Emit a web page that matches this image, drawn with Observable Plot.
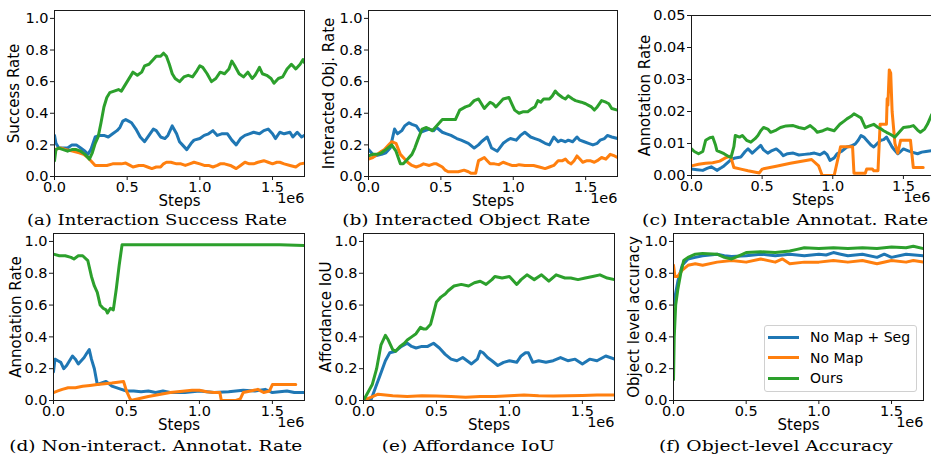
<!DOCTYPE html>
<html><head><meta charset="utf-8">
<script src="https://cdn.jsdelivr.net/npm/d3@7"></script>
<script src="https://cdn.jsdelivr.net/npm/@observablehq/plot@0.6"></script>
<style>
html,body{margin:0;padding:0;background:#fff;}
body{width:931px;height:455px;overflow:hidden;position:relative;font-family:"DejaVu Sans",sans-serif;}
.panel{position:absolute;}
.panel svg{max-width:none !important;}
.cap{position:absolute;font-family:"DejaVu Serif",serif;font-size:15px;line-height:18px;white-space:nowrap;color:#000;}
.cap span{display:inline-block;transform-origin:50% 50%;}
.legend{position:absolute;border:1px solid #d0d0d0;border-radius:3px;background:rgba(255,255,255,0.85);box-sizing:border-box;}
.legend .row{position:absolute;left:0;height:20px;display:flex;align-items:center;font-size:14px;color:#000;}
.legend .sw{width:31px;height:3px;margin-left:3px;margin-right:11px;}
</style></head><body>
<script>
// ---------- labels ----------
const seriesNames = ["No Map + Seg", "No Map", "Ours"];
const seriesColors = ["#1f77b4", "#ff7f0e", "#2ca02c"];
const captions = ["(a) Interaction Success Rate", "(b) Interacted Object Rate", "(c) Interactable Annotat. Rate",
                  "(d) Non-interact. Annotat. Rate", "(e) Affordance IoU", "(f) Object-level Accuracy"];
const yLabels = ["Success Rate", "Interacted Obj. Rate", "Annotation Rate", "Annotation Rate", "Affordance IoU", "Object level accuracy"];
const xLabel = "Steps";
const xExponent = "1e6";
const xTicks = [0, 0.5, 1.0, 1.5];
const yTicksUnit = [0, 0.2, 0.4, 0.6, 0.8, 1.0];
const yTicksSmall = [0, 0.01, 0.02, 0.03, 0.04, 0.05];

// ---------- data (steps in millions, value) ----------
// (a) Interaction Success Rate
const aSeg = [[0,0.26],[0.01,0.21],[0.03,0.18],[0.06,0.18],[0.09,0.18],[0.12,0.2],[0.15,0.2],[0.18,0.18],[0.21,0.16],[0.23,0.14],[0.25,0.17],[0.28,0.25],[0.31,0.26],[0.34,0.26],[0.37,0.25],[0.4,0.27],[0.43,0.29],[0.45,0.31],[0.47,0.35],[0.49,0.36],[0.51,0.35],[0.53,0.34],[0.56,0.3],[0.59,0.25],[0.62,0.22],[0.65,0.26],[0.68,0.3],[0.7,0.29],[0.73,0.25],[0.76,0.24],[0.78,0.26],[0.81,0.32],[0.84,0.27],[0.86,0.22],[0.88,0.2],[0.91,0.17],[0.94,0.21],[0.96,0.23],[1.0,0.24],[1.03,0.26],[1.06,0.27],[1.09,0.29],[1.12,0.26],[1.15,0.27],[1.19,0.27],[1.22,0.23],[1.25,0.2],[1.28,0.24],[1.31,0.26],[1.34,0.27],[1.37,0.28],[1.41,0.27],[1.44,0.29],[1.47,0.3],[1.5,0.27],[1.52,0.24],[1.55,0.28],[1.58,0.27],[1.62,0.28],[1.64,0.25],[1.67,0.28],[1.7,0.25],[1.72,0.26]];
const aNoMap = [[0,0.17],[0.04,0.18],[0.08,0.17],[0.13,0.16],[0.17,0.15],[0.2,0.14],[0.23,0.12],[0.25,0.1],[0.28,0.07],[0.32,0.07],[0.36,0.07],[0.4,0.08],[0.43,0.08],[0.46,0.08],[0.49,0.085],[0.52,0.07],[0.54,0.06],[0.58,0.07],[0.61,0.07],[0.64,0.06],[0.67,0.05],[0.7,0.06],[0.73,0.06],[0.75,0.08],[0.77,0.09],[0.8,0.09],[0.84,0.08],[0.87,0.08],[0.9,0.07],[0.93,0.08],[0.96,0.09],[1.0,0.08],[1.03,0.07],[1.06,0.07],[1.09,0.06],[1.12,0.07],[1.14,0.08],[1.17,0.08],[1.21,0.07],[1.25,0.05],[1.28,0.07],[1.31,0.09],[1.34,0.08],[1.37,0.08],[1.4,0.09],[1.44,0.1],[1.47,0.09],[1.5,0.08],[1.53,0.09],[1.55,0.09],[1.58,0.08],[1.62,0.07],[1.66,0.06],[1.69,0.08],[1.72,0.085]];
const aOurs = [[0,0.1],[0.01,0.17],[0.03,0.18],[0.06,0.17],[0.09,0.16],[0.12,0.17],[0.15,0.17],[0.18,0.16],[0.21,0.14],[0.24,0.11],[0.26,0.15],[0.28,0.21],[0.3,0.25],[0.32,0.34],[0.34,0.44],[0.36,0.5],[0.38,0.53],[0.41,0.54],[0.44,0.55],[0.46,0.54],[0.48,0.57],[0.5,0.6],[0.52,0.63],[0.54,0.66],[0.57,0.64],[0.6,0.66],[0.62,0.7],[0.65,0.71],[0.68,0.74],[0.7,0.76],[0.73,0.76],[0.75,0.78],[0.77,0.76],[0.79,0.71],[0.81,0.65],[0.83,0.62],[0.86,0.6],[0.89,0.63],[0.92,0.64],[0.95,0.63],[0.98,0.67],[1.0,0.7],[1.02,0.69],[1.05,0.65],[1.08,0.6],[1.11,0.62],[1.14,0.66],[1.17,0.65],[1.2,0.68],[1.22,0.73],[1.24,0.7],[1.27,0.65],[1.3,0.63],[1.33,0.66],[1.36,0.62],[1.38,0.64],[1.41,0.69],[1.43,0.65],[1.46,0.64],[1.49,0.62],[1.51,0.59],[1.54,0.62],[1.57,0.63],[1.6,0.68],[1.63,0.71],[1.66,0.68],[1.69,0.71],[1.71,0.74],[1.72,0.72]];

// (b) Interacted Object Rate
const bSeg = [[0,0.17],[0.04,0.13],[0.09,0.14],[0.12,0.15],[0.15,0.18],[0.18,0.3],[0.2,0.27],[0.23,0.29],[0.25,0.32],[0.28,0.34],[0.3,0.33],[0.33,0.32],[0.36,0.28],[0.39,0.29],[0.42,0.3],[0.45,0.29],[0.47,0.31],[0.51,0.28],[0.54,0.27],[0.57,0.26],[0.61,0.24],[0.64,0.23],[0.69,0.21],[0.73,0.18],[0.76,0.2],[0.78,0.22],[0.82,0.25],[0.85,0.18],[0.89,0.16],[0.93,0.21],[0.96,0.23],[0.98,0.24],[1.02,0.23],[1.05,0.26],[1.08,0.28],[1.12,0.25],[1.15,0.24],[1.18,0.23],[1.22,0.21],[1.25,0.2],[1.28,0.25],[1.31,0.22],[1.33,0.23],[1.36,0.22],[1.38,0.23],[1.41,0.22],[1.44,0.25],[1.46,0.23],[1.49,0.22],[1.52,0.21],[1.55,0.2],[1.58,0.21],[1.6,0.23],[1.63,0.24],[1.65,0.26],[1.68,0.25],[1.72,0.24]];
const bNoMap = [[0,0.11],[0.03,0.12],[0.06,0.14],[0.09,0.16],[0.11,0.17],[0.14,0.2],[0.16,0.22],[0.19,0.21],[0.22,0.14],[0.25,0.11],[0.27,0.09],[0.3,0.07],[0.33,0.06],[0.36,0.07],[0.38,0.08],[0.42,0.07],[0.45,0.08],[0.47,0.08],[0.51,0.06],[0.53,0.04],[0.55,0.03],[0.59,0.03],[0.62,0.03],[0.66,0.04],[0.69,0.03],[0.71,0.02],[0.74,0.02],[0.76,0.1],[0.78,0.11],[0.8,0.12],[0.82,0.1],[0.84,0.08],[0.87,0.08],[0.9,0.075],[0.93,0.09],[0.96,0.08],[0.99,0.07],[1.02,0.07],[1.04,0.075],[1.08,0.07],[1.11,0.07],[1.14,0.07],[1.18,0.06],[1.22,0.05],[1.25,0.06],[1.28,0.07],[1.31,0.1],[1.34,0.1],[1.36,0.11],[1.38,0.09],[1.4,0.08],[1.42,0.1],[1.44,0.13],[1.46,0.11],[1.48,0.09],[1.51,0.1],[1.53,0.1],[1.56,0.09],[1.58,0.1],[1.61,0.12],[1.64,0.11],[1.67,0.14],[1.7,0.13],[1.72,0.12]];
const bOurs = [[0,0.13],[0.03,0.14],[0.06,0.14],[0.09,0.15],[0.12,0.17],[0.16,0.2],[0.19,0.16],[0.22,0.08],[0.24,0.08],[0.26,0.1],[0.3,0.14],[0.32,0.18],[0.34,0.23],[0.37,0.3],[0.4,0.31],[0.42,0.3],[0.44,0.29],[0.47,0.32],[0.49,0.34],[0.51,0.36],[0.55,0.36],[0.58,0.36],[0.6,0.36],[0.63,0.42],[0.67,0.44],[0.7,0.45],[0.73,0.48],[0.76,0.49],[0.78,0.46],[0.8,0.43],[0.82,0.45],[0.84,0.47],[0.86,0.46],[0.88,0.44],[0.91,0.47],[0.93,0.49],[0.97,0.5],[0.99,0.46],[1.01,0.42],[1.04,0.4],[1.07,0.41],[1.1,0.41],[1.13,0.43],[1.15,0.44],[1.17,0.48],[1.19,0.47],[1.21,0.49],[1.25,0.49],[1.27,0.51],[1.29,0.54],[1.31,0.52],[1.34,0.5],[1.36,0.49],[1.38,0.51],[1.41,0.49],[1.43,0.48],[1.47,0.47],[1.5,0.46],[1.52,0.45],[1.54,0.44],[1.56,0.42],[1.58,0.44],[1.61,0.48],[1.64,0.47],[1.66,0.46],[1.68,0.43],[1.72,0.42]];

// (c) Interactable Annotation Rate
const cSeg = [[0,0.002],[0.04,0.0018],[0.08,0.0016],[0.11,0.0022],[0.14,0.0027],[0.16,0.0022],[0.18,0.0016],[0.21,0.0024],[0.23,0.003],[0.26,0.0042],[0.28,0.005],[0.31,0.0055],[0.35,0.0058],[0.38,0.0075],[0.4,0.0083],[0.43,0.007],[0.46,0.0082],[0.49,0.0094],[0.51,0.008],[0.54,0.007],[0.57,0.0078],[0.6,0.0083],[0.63,0.0072],[0.65,0.0062],[0.68,0.0068],[0.72,0.007],[0.76,0.0064],[0.8,0.0066],[0.84,0.0068],[0.87,0.007],[0.91,0.0065],[0.94,0.0073],[0.96,0.0065],[0.98,0.0047],[1.01,0.0055],[1.03,0.0068],[1.06,0.0075],[1.1,0.0089],[1.13,0.0092],[1.16,0.0099],[1.18,0.011],[1.2,0.0125],[1.22,0.012],[1.24,0.011],[1.27,0.0095],[1.29,0.0089],[1.32,0.0102],[1.34,0.011],[1.36,0.0112],[1.38,0.012],[1.4,0.0105],[1.42,0.0089],[1.44,0.0078],[1.46,0.0068],[1.48,0.0075],[1.5,0.0083],[1.53,0.0078],[1.56,0.0073],[1.6,0.0068],[1.63,0.0073],[1.66,0.0075],[1.7,0.0078],[1.72,0.0075]];
const cNoMap = [[0,0.003],[0.05,0.0035],[0.1,0.0038],[0.15,0.004],[0.2,0.0045],[0.24,0.0055],[0.27,0.006],[0.28,0.0055],[0.3,0.0025],[0.35,0.002],[0.4,0.0015],[0.48,0.0008],[0.5,0.002],[0.6,0.0029],[0.7,0.0038],[0.85,0.005],[0.9,0.003],[0.925,0.0],[1.01,0.0],[1.055,0.009],[1.14,0.009],[1.15,0.0007],[1.23,0.0007],[1.24,0.002],[1.28,0.002],[1.29,0.0015],[1.32,0.0015],[1.335,0.016],[1.38,0.016],[1.385,0.024],[1.39,0.022],[1.4,0.033],[1.41,0.032],[1.42,0.02],[1.44,0.01],[1.46,0.007],[1.48,0.011],[1.55,0.011],[1.57,0.0025],[1.64,0.0025]];
const cOurs = [[0,0.0083],[0.02,0.0075],[0.05,0.0068],[0.08,0.0075],[0.1,0.011],[0.13,0.0118],[0.15,0.012],[0.17,0.0095],[0.18,0.0078],[0.21,0.0072],[0.23,0.0068],[0.26,0.006],[0.28,0.0057],[0.3,0.009],[0.31,0.0125],[0.34,0.012],[0.36,0.0125],[0.39,0.011],[0.42,0.0104],[0.45,0.0115],[0.47,0.0125],[0.49,0.014],[0.51,0.015],[0.54,0.0145],[0.56,0.0135],[0.6,0.0142],[0.63,0.015],[0.67,0.0155],[0.72,0.0156],[0.76,0.015],[0.8,0.0146],[0.84,0.0156],[0.87,0.0145],[0.89,0.0135],[0.93,0.014],[0.96,0.0146],[1.01,0.014],[1.05,0.016],[1.08,0.017],[1.1,0.0177],[1.13,0.0185],[1.15,0.0193],[1.18,0.0185],[1.2,0.018],[1.23,0.015],[1.26,0.0155],[1.29,0.016],[1.32,0.015],[1.34,0.0146],[1.36,0.014],[1.38,0.0135],[1.41,0.0128],[1.44,0.012],[1.47,0.0135],[1.5,0.015],[1.54,0.0152],[1.57,0.0156],[1.6,0.0142],[1.62,0.0135],[1.65,0.0145],[1.67,0.016],[1.7,0.019],[1.72,0.019]];

// (d) Non-interactable Annotation Rate
const dSeg = [[0,0.18],[0.01,0.26],[0.03,0.25],[0.05,0.24],[0.07,0.2],[0.09,0.22],[0.11,0.25],[0.13,0.28],[0.15,0.26],[0.17,0.23],[0.19,0.25],[0.21,0.27],[0.23,0.3],[0.245,0.32],[0.26,0.26],[0.28,0.2],[0.3,0.1],[0.33,0.11],[0.36,0.12],[0.4,0.09],[0.45,0.075],[0.5,0.06],[0.55,0.06],[0.6,0.055],[0.65,0.06],[0.7,0.05],[0.75,0.06],[0.8,0.05],[0.9,0.05],[1.0,0.06],[1.1,0.05],[1.2,0.055],[1.3,0.065],[1.38,0.06],[1.45,0.07],[1.5,0.05],[1.6,0.06],[1.65,0.05],[1.72,0.05]];
const dNoMap = [[0,0.05],[0.03,0.06],[0.06,0.07],[0.1,0.08],[0.15,0.08],[0.2,0.09],[0.25,0.095],[0.3,0.1],[0.35,0.105],[0.4,0.11],[0.48,0.12],[0.5,0.06],[0.52,0.02],[0.53,0.0],[0.65,0.025],[0.8,0.05],[0.9,0.06],[0.95,0.065],[1.0,0.065],[1.05,0.055],[1.1,0.05],[1.14,0.05],[1.15,0.0],[1.25,0.0],[1.28,0.01],[1.3,0.05],[1.35,0.06],[1.4,0.07],[1.44,0.05],[1.48,0.06],[1.5,0.1],[1.55,0.1],[1.6,0.1],[1.66,0.1]];
const dOurs = [[0,0.92],[0.04,0.91],[0.08,0.91],[0.12,0.9],[0.14,0.89],[0.17,0.91],[0.2,0.91],[0.235,0.88],[0.26,0.78],[0.28,0.72],[0.3,0.68],[0.32,0.6],[0.34,0.58],[0.36,0.57],[0.37,0.55],[0.39,0.58],[0.41,0.57],[0.43,0.7],[0.45,0.85],[0.47,0.98],[0.6,0.98],[0.8,0.98],[1.0,0.98],[1.2,0.98],[1.4,0.98],[1.55,0.98],[1.72,0.975]];

// (e) Affordance IoU
const eSeg = [[0,0.0],[0.05,0.0],[0.07,0.05],[0.09,0.1],[0.11,0.15],[0.13,0.2],[0.15,0.25],[0.18,0.3],[0.22,0.31],[0.26,0.34],[0.3,0.36],[0.33,0.34],[0.36,0.33],[0.4,0.34],[0.44,0.34],[0.48,0.36],[0.52,0.33],[0.56,0.29],[0.6,0.26],[0.64,0.25],[0.68,0.27],[0.71,0.25],[0.74,0.23],[0.78,0.26],[0.8,0.31],[0.82,0.3],[0.85,0.27],[0.88,0.25],[0.92,0.22],[0.96,0.24],[1.0,0.25],[1.05,0.24],[1.08,0.28],[1.11,0.3],[1.13,0.3],[1.16,0.24],[1.2,0.25],[1.25,0.24],[1.3,0.25],[1.35,0.27],[1.4,0.25],[1.45,0.26],[1.5,0.23],[1.55,0.26],[1.6,0.25],[1.66,0.28],[1.72,0.26]];
const eNoMap = [[0,0.0],[0.05,0.02],[0.1,0.04],[0.15,0.035],[0.2,0.03],[0.3,0.025],[0.4,0.03],[0.5,0.028],[0.6,0.025],[0.7,0.02],[0.8,0.025],[0.9,0.025],[1.0,0.03],[1.1,0.035],[1.2,0.03],[1.3,0.028],[1.4,0.03],[1.5,0.032],[1.6,0.035],[1.72,0.035]];
const eOurs = [[0,0.0],[0.03,0.05],[0.06,0.1],[0.09,0.2],[0.12,0.35],[0.15,0.41],[0.17,0.38],[0.2,0.32],[0.22,0.31],[0.25,0.34],[0.28,0.36],[0.3,0.38],[0.33,0.4],[0.36,0.42],[0.39,0.46],[0.41,0.45],[0.43,0.45],[0.46,0.48],[0.48,0.55],[0.5,0.62],[0.53,0.65],[0.56,0.67],[0.58,0.69],[0.62,0.72],[0.67,0.73],[0.72,0.72],[0.76,0.74],[0.8,0.75],[0.84,0.73],[0.88,0.76],[0.9,0.78],[0.95,0.77],[1.0,0.78],[1.05,0.73],[1.08,0.76],[1.12,0.79],[1.17,0.76],[1.22,0.79],[1.27,0.75],[1.32,0.79],[1.38,0.77],[1.42,0.77],[1.47,0.76],[1.52,0.77],[1.57,0.78],[1.62,0.79],[1.67,0.77],[1.72,0.76]];

// (f) Object-level Accuracy
const fSeg = [[0,0.6],[0.01,0.65],[0.03,0.75],[0.06,0.85],[0.1,0.89],[0.15,0.9],[0.2,0.91],[0.3,0.92],[0.35,0.91],[0.4,0.905],[0.5,0.91],[0.6,0.92],[0.7,0.91],[0.75,0.915],[0.8,0.92],[0.9,0.91],[1.0,0.92],[1.05,0.915],[1.1,0.93],[1.15,0.92],[1.2,0.91],[1.3,0.92],[1.4,0.9],[1.45,0.92],[1.5,0.9],[1.6,0.92],[1.72,0.91]];
const fNoMap = [[0,0.85],[0.01,0.78],[0.03,0.78],[0.06,0.82],[0.1,0.85],[0.15,0.86],[0.2,0.85],[0.3,0.87],[0.4,0.88],[0.5,0.87],[0.6,0.89],[0.7,0.87],[0.75,0.89],[0.8,0.86],[0.9,0.87],[1.0,0.87],[1.1,0.88],[1.2,0.87],[1.3,0.88],[1.4,0.86],[1.5,0.88],[1.6,0.87],[1.65,0.88],[1.72,0.87]];
const fOurs = [[0,0.13],[0.005,0.4],[0.015,0.6],[0.03,0.7],[0.05,0.8],[0.07,0.88],[0.1,0.9],[0.15,0.92],[0.2,0.925],[0.3,0.92],[0.35,0.9],[0.4,0.89],[0.45,0.91],[0.5,0.93],[0.6,0.935],[0.7,0.93],[0.8,0.94],[0.85,0.95],[0.9,0.96],[1.0,0.955],[1.1,0.96],[1.2,0.955],[1.3,0.96],[1.4,0.955],[1.5,0.965],[1.6,0.96],[1.65,0.97],[1.72,0.955]];

const panelSeries = [[aSeg,aNoMap,aOurs],[bSeg,bNoMap,bOurs],[cSeg,cNoMap,cOurs],[dSeg,dNoMap,dOurs],[eSeg,eNoMap,eOurs],[fSeg,fNoMap,fOurs]];
const panelYMax = [1.05, 1.05, 0.05, 1.05, 1.05, 1.05];
const panelYTicks = [yTicksUnit, yTicksUnit, yTicksSmall, yTicksUnit, yTicksUnit, yTicksUnit];
const panelYFormat = [".1f", ".1f", ".2f", ".1f", ".1f", ".1f"];
const xMax = 1.72;

// ---------- layout (pixels) ----------
const layout = [
  {cell:[0,310],   top:0,   frame:[54,304,10,176],  ylabDx:-40, expDx:0,  cap:[157,211,260]},
  {cell:[310,620], top:0,   frame:[368,617,10,176], ylabDx:-39, expDx:0,  cap:[466,211,248]},
  {cell:[620,940], top:0,   frame:[691,934,15,175], ylabDx:-46, expDx:-4, cap:[785,211,286]},
  {cell:[0,310],   top:227, frame:[53,304,233,400], ylabDx:-37, expDx:0,  cap:[156,437,293]},
  {cell:[310,620], top:227, frame:[363,614,233,400],ylabDx:-37, expDx:0,  cap:[468,437,173]},
  {cell:[620,931], top:227, frame:[673,923,233,400],ylabDx:-39, expDx:0,  cap:[776,437,234]}
];

layout.forEach((L, i) => {
  const [fl, fr, ft, fb] = L.frame;
  const width = L.cell[1] - L.cell[0];
  const mb = 44;
  const marks = [];
  panelSeries[i].forEach((s, k) => {
    marks.push(Plot.line(s, {x: d => d[0], y: d => d[1], stroke: seriesColors[k], strokeWidth: 3, strokeLinejoin: "round", clip: true}));
  });
  marks.push(
    Plot.frame({stroke: "#1a1a1a", strokeWidth: 1}),
    Plot.axisX({ticks: xTicks, tickFormat: d3.format(".1f"), tickSize: 4, tickPadding: 1.5, label: null, stroke: "#1a1a1a", fontSize: 14.5}),
    Plot.axisY({ticks: panelYTicks[i], tickFormat: d3.format(panelYFormat[i]), tickSize: 4, tickPadding: 2, label: null, stroke: "#1a1a1a", fontSize: 14.5}),
    Plot.text([xLabel], {text: d => d, frameAnchor: "bottom", dy: 29, fontSize: 15, fill: "black"}),
    Plot.text([xExponent], {text: d => d, frameAnchor: "bottom-right", textAnchor: "end", dx: L.expDx, dy: 26, fontSize: 14.5, fill: "black"}),
    Plot.text([yLabels[i]], {text: d => d, frameAnchor: "left", textAnchor: "middle", rotate: -90, dx: L.ylabDx, fontSize: 15, fill: "black"})
  );
  const chart = Plot.plot({
    width, height: fb - L.top + mb,
    marginLeft: fl - L.cell[0], marginRight: L.cell[1] - fr,
    marginTop: ft - L.top, marginBottom: mb,
    x: {domain: [0, xMax]},
    y: {domain: [0, panelYMax[i]]},
    style: {fontFamily: "DejaVu Sans", fontSize: "14.5px", color: "black", background: "transparent", overflow: "visible", maxWidth: "none"},
    marks
  });
  const wrap = document.createElement("div");
  wrap.className = "panel";
  wrap.style.left = L.cell[0] + "px";
  wrap.style.top = L.top + "px";
  wrap.style.width = width + "px";
  wrap.appendChild(chart);
  document.body.appendChild(wrap);

  // caption below the panel
  const cap = document.createElement("div");
  cap.className = "cap";
  const span = document.createElement("span");
  span.textContent = captions[i];
  cap.appendChild(span);
  document.body.appendChild(cap);
  const w = span.getBoundingClientRect().width;
  const [cx, cy, cw] = L.cap;
  cap.style.left = (cx - w / 2) + "px";
  cap.style.top = cy + "px";
  span.style.transform = `scaleX(${cw / w})`;
});

// legend inside panel (f)
const legend = document.createElement("div");
legend.className = "legend";
Object.assign(legend.style, {left: "764px", top: "325px", width: "153px", height: "67px"});
seriesNames.forEach((name, k) => {
  const row = document.createElement("div");
  row.className = "row";
  row.style.top = (1 + k * 20.5) + "px";
  const sw = document.createElement("div");
  sw.className = "sw";
  sw.style.background = seriesColors[k];
  const t = document.createElement("span");
  t.textContent = name;
  row.appendChild(sw); row.appendChild(t);
  legend.appendChild(row);
});
document.body.appendChild(legend);
</script>
</body></html>
